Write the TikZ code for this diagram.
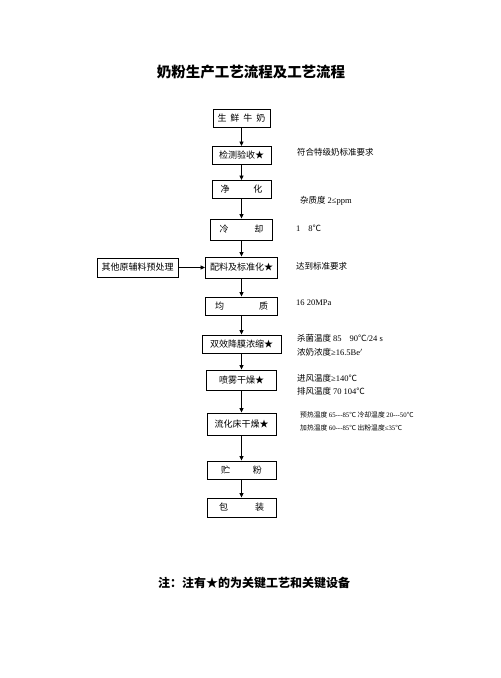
\documentclass[tikz,border=0pt]{standalone}
\usepackage{fontspec}
\setmainfont{Noto Sans CJK SC}
\newfontfamily\latin{Liberation Serif}
\newcommand{\numtxt}[1]{{\latin #1}}
\usetikzlibrary{arrows.meta, positioning}

\begin{document}
\begin{tikzpicture}[
    x=1pt, y=-1pt,
    >={Triangle[length=4.5pt,width=4pt]},
    every node/.style={font=\fontsize{9}{11}\selectfont},
    stepbox/.style={draw, line width=0.9pt, minimum height=18pt,
                    inner sep=0pt, align=center},
    arr/.style={->, line width=0.8pt},
    note/.style={anchor=west, inner sep=0pt, font=\fontsize{8.5}{10}\selectfont},
    smallnote/.style={anchor=west, inner sep=0pt, font=\fontsize{6.8}{8}\selectfont},
]
\useasboundingbox (0,0) rectangle (501,678);

\node[font=\bfseries\fontsize{14.5}{16}\selectfont] (title) at (251,72)
    {奶粉生产工艺流程及工艺流程};

% main line
\node[stepbox, minimum width=57pt] (milk)  at (241.5,118)   {生\hspace{4pt}鲜\hspace{4pt}牛\hspace{4pt}奶};
\node[stepbox, minimum width=59pt] (check) at (241.5,155.5) {检测验收★};
\node[stepbox, minimum width=59pt] (clean) at (241.5,189.5) {净\hspace{24pt}化};
\node[stepbox, minimum width=62pt, minimum height=21pt] (cool) at (241.5,229.5) {冷\hspace{26pt}却};
\node[stepbox, minimum width=72pt, minimum height=21pt] (mix)  at (241.5,267.5) {配料及标准化★};
\node[stepbox, minimum width=72pt] (homo)  at (241.5,306)   {均\hspace{35pt}质};
\node[stepbox, minimum width=79pt] (evap)  at (241.5,344)   {双效降膜浓缩★};
\node[stepbox, minimum width=70pt, minimum height=20pt] (spray) at (241.5,380) {喷雾干燥★};
\node[stepbox, minimum width=69pt, minimum height=22pt] (fluid) at (241.5,424) {流化床干燥★};
\node[stepbox, minimum width=69pt] (store) at (241.5,470)   {贮\hspace{23pt}粉};
\node[stepbox, minimum width=69pt, minimum height=19pt] (pack) at (241.5,507.5) {包\hspace{27pt}装};

\node[stepbox, minimum width=81pt, minimum height=19pt] (other) at (137.5,267.5) {其他原辅料预处理};

\draw[arr] (milk)  -- (check);
\draw[arr] (check) -- (clean);
\draw[arr] (clean) -- (cool);
\draw[arr] (cool)  -- (mix);
\draw[arr] (mix)   -- (homo);
\draw[arr] (homo)  -- (evap);
\draw[arr] (evap)  -- (spray);
\draw[arr] (spray) -- (fluid);
\draw[arr] (fluid) -- (store);
\draw[arr] (store) -- (pack);
\draw[arr] (other) -- (mix);

% process notes
\node[note] (n1) at (297,152) {符合特级奶标准要求};
\node[note] (n2) at (300,201) {杂质度 \numtxt{2≤ppm}};
\node[note] (n3) at (296,228) {\numtxt{1\hspace{8pt}8}℃};
\node[note] (n4) at (296,266) {达到标准要求};
\node[note] (n5) at (296,303) {\numtxt{16 20MPa}};
\node[note] (n6) at (297,338) {杀菌温度 \numtxt{85\hspace{8pt}90}℃\numtxt{/24 s}};
\node[note] (n7) at (297,352) {浓奶浓度\numtxt{≥16.5Be$'$}};
\node[note] (n8) at (297,378) {进风温度\numtxt{≥140}℃};
\node[note] (n9) at (297,391) {排风温度 \numtxt{70 104}℃};
\node[smallnote] (n10) at (300,415)
    {预热温度 \numtxt{65-{}-{}-85}℃ 冷却温度 \numtxt{20-{}-{}-50}℃};
\node[smallnote] (n11) at (300,428)
    {加热温度 \numtxt{60-{}-{}-85}℃ 出粉温度\numtxt{≤35}℃};

\node[font=\bfseries\fontsize{12}{14}\selectfont] (footer) at (254,583)
    {注：注有★的为关键工艺和关键设备};
\end{tikzpicture}
\end{document}
